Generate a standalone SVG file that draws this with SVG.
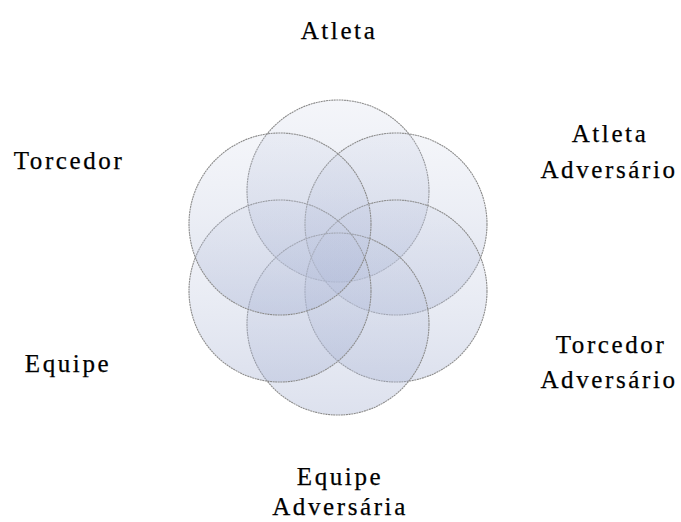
<svg xmlns="http://www.w3.org/2000/svg" width="681" height="522" viewBox="0 0 681 522">
<style>
.c{fill:url(#g);stroke:#8c8c8c;stroke-width:1.1;stroke-dasharray:2 0.6}
.t{font-family:"Liberation Serif","Times New Roman",serif;font-size:25px;fill:#000;stroke:#000;stroke-width:0.25;text-anchor:middle;letter-spacing:2.6px}
</style>
<defs>
<linearGradient id="g" x1="0" y1="0" x2="0" y2="1">
<stop offset="0" stop-color="#c9d0e4" stop-opacity="0.2"/>
<stop offset="1" stop-color="#a9b4d4" stop-opacity="0.4"/>
</linearGradient>
</defs>
<rect width="681" height="522" fill="#fff"/>
<g id="circles">
<g id="n-atleta"><circle class="c" cx="338" cy="191" r="91"/></g>
<g id="n-atleta-adv"><circle class="c" cx="396" cy="224" r="91"/></g>
<g id="n-torcedor-adv"><circle class="c" cx="396" cy="291" r="91"/></g>
<g id="n-equipe-adv"><circle class="c" cx="338" cy="324" r="91"/></g>
<g id="n-equipe"><circle class="c" cx="280" cy="291" r="91"/></g>
<g id="n-torcedor"><circle class="c" cx="280" cy="224" r="91"/></g>
</g>
<g id="labels">
<text class="t" x="339" y="39">Atleta</text>
<text class="t" x="610" y="142">Atleta</text>
<text class="t" x="609" y="178">Adversário</text>
<text class="t" x="611" y="353">Torcedor</text>
<text class="t" x="609" y="388">Adversário</text>
<text class="t" x="340" y="485">Equipe</text>
<text class="t" x="340" y="515">Adversária</text>
<text class="t" x="69" y="169">Torcedor</text>
<text class="t" x="68" y="372">Equipe</text>
</g>
<g id="connectors"/>
</svg>
